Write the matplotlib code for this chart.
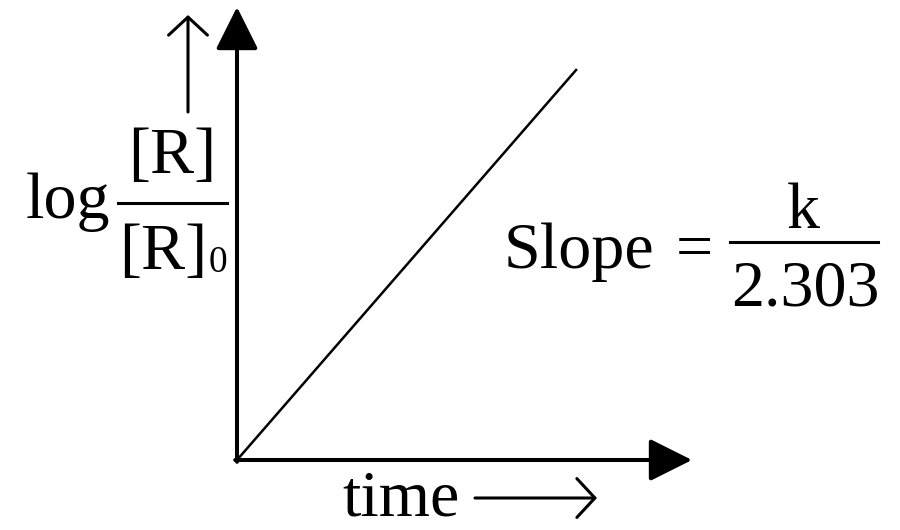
import matplotlib.pyplot as plt
from matplotlib.lines import Line2D

# Data (schematic first-order plot)
time = [0, 0.747]
log_ratio = [0, 0.863]

y_label_top = "[R]"
y_label_bottom = "[R]"
y_label_sub = "0"
x_label = "time"
slope_num = "k"
slope_den = "2.303"

W, H = 900, 530
plt.rcParams['font.family'] = ['Liberation Serif', 'DejaVu Serif']

fig = plt.figure(figsize=(W / 100, H / 100), dpi=100)

# overlay in pixel coordinates for the labels
ov = fig.add_axes([0, 0, 1, 1])
ov.set_xlim(0, W)
ov.set_ylim(H, 0)
ov.axis('off')

# main axes: origin at (237, 460) px
ax = fig.add_axes([237 / W, 70 / H, 455 / W, 453 / H])
ax.set_xlim(0, 1)
ax.set_ylim(0, 1)
ax.axis('off')

ax.plot(time, log_ratio, color='black', lw=1.8, clip_on=False, solid_capstyle='butt')

# axis arrows
axis_arrow = dict(arrowstyle='-|>', color='black', lw=2.9, mutation_scale=66,
                  shrinkA=0, shrinkB=0)
ax.annotate("", xy=(0, 1), xytext=(0, -0.004), xycoords='axes fraction',
            textcoords='axes fraction', arrowprops=axis_arrow)
ax.annotate("", xy=(1, 0), xytext=(-0.004, 0), xycoords='axes fraction',
            textcoords='axes fraction', arrowprops=axis_arrow)

fs = 47.5
# y label: log [R]/[R]0
ov.text(26, 218, "log", fontsize=fs, va='baseline', ha='left')
ov.text(172, 173, y_label_top, fontsize=fs, va='baseline', ha='center')
ov.add_line(Line2D([118, 227], [203, 203], color='black', lw=2.2))
ov.text(207, 269, y_label_bottom, fontsize=fs, va='baseline', ha='right')
ov.text(209, 272, y_label_sub, fontsize=27, va='baseline', ha='left')

small_arrow = dict(arrowstyle='->,head_length=13,head_width=14', color='black',
                   lw=2.2, mutation_scale=1, shrinkA=0, shrinkB=0)
ov.annotate("", xy=(188, 15), xytext=(188, 112), arrowprops=small_arrow)

# x label
ov.text(342, 515, x_label, fontsize=fs, va='baseline', ha='left')
ov.annotate("", xy=(597, 498), xytext=(475, 498), arrowprops=small_arrow)

# slope
ov.text(504, 268, "Slope", fontsize=fs, va='baseline', ha='left')
ov.text(694, 268, "=", fontsize=fs, va='baseline', ha='center')
ov.text(803, 228, slope_num, fontsize=fs, va='baseline', ha='center')
ov.add_line(Line2D([730, 878], [242, 242], color='black', lw=2.2))
ov.text(805, 305, slope_den, fontsize=fs, va='baseline', ha='center')

fig.savefig("out.png", dpi=100)
